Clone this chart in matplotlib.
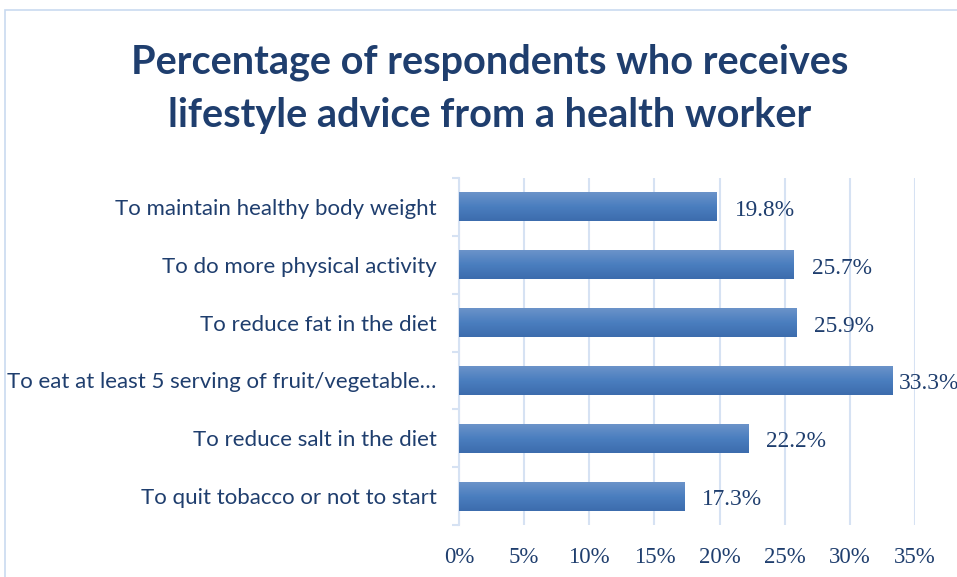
import matplotlib
matplotlib.use("Agg")
import matplotlib.pyplot as plt
import numpy as np
from matplotlib.patches import Rectangle
from matplotlib.colors import LinearSegmentedColormap

categories = [
    "To maintain healthy body weight",
    "To do more physical activity",
    "To reduce fat in the diet",
    "To eat at least 5 serving of fruit/vegetable\u2026",
    "To reduce salt in the diet",
    "To quit tobacco or not to start",
]
values = [19.8, 25.7, 25.9, 33.3, 22.2, 17.3]
value_labels = ["19.8%", "25.7%", "25.9%", "33.3%", "22.2%", "17.3%"]
xticks = [0, 5, 10, 15, 20, 25, 30, 35]
xtick_labels = ["0%", "5%", "10%", "15%", "20%", "25%", "30%", "35%"]
title = "Percentage of respondents who receives\nlifestyle advice from a health worker"

W, H = 957, 577
fig = plt.figure(figsize=(W / 100, H / 100), dpi=100)
fig.patch.set_facecolor("white")

navy = "#1f3e6e"
grid_c = "#d6e2f3"

# chart border
fig.add_artist(Rectangle((5 / W, -0.1), 1.2, 1.1 - 10 / H, transform=fig.transFigure,
                         fill=False, edgecolor="#c9daf0", linewidth=1.2))

left, right = 459 / W, 915 / W
bottom, top = 1 - 525 / H, 1 - 178 / H
ax = fig.add_axes([left, bottom, right - left, top - bottom])
ax.set_facecolor("none")

n = len(categories)
ypos = np.arange(n)

cmap = LinearSegmentedColormap.from_list("g", ["#6b93c9", "#4a7ebf", "#3c6cad"])
grad = np.linspace(0, 1, 64).reshape(-1, 1)
bar_h = 0.5
bars = ax.barh(ypos, values, height=bar_h, color="#4a7ebf", zorder=3)
for b in bars:
    x0, y0 = b.get_x(), b.get_y()
    w, h = b.get_width(), b.get_height()
    im = ax.imshow(grad, cmap=cmap, aspect="auto", extent=(x0, x0 + w, y0 + h, y0),
                   origin="upper", zorder=3.5, interpolation="bilinear")
    im.set_clip_path(b)
ax.set_xlim(0, 35)
ax.set_ylim(n - 0.5, -0.5)

for y, v, lab in zip(ypos, values, value_labels):
    off = 6 if v > 30 else 18
    ax.annotate(lab, xy=(v, y), xytext=(off, -1), textcoords="offset pixels",
                va="center_baseline", ha="left", fontsize=16.8, color=navy,
                family="Liberation Serif", annotation_clip=False, zorder=5)

ax.set_xticks(xticks)
ax.set_xticklabels(xtick_labels, family="Liberation Serif", fontsize=16.5, color=navy)
ax.tick_params(axis="x", length=0, pad=16)
ax.set_yticks(ypos)
ax.set_yticklabels(categories, family="Lato", fontsize=16, color=navy)
ax.tick_params(axis="y", length=0, pad=16)
ax.set_yticks(np.arange(-0.5, n, 1), minor=True)
ax.tick_params(axis="y", which="minor", length=5, color=grid_c, width=1.5)

ax.grid(axis="x", color=grid_c, linewidth=1.5, zorder=0)
for s in ["top", "right", "bottom"]:
    ax.spines[s].set_visible(False)
ax.spines["left"].set_color(grid_c)
ax.spines["left"].set_linewidth(1.5)

fig.text(490 / W, 1 - 89 / H, title, ha="center", va="center", fontsize=28.5,
         family="Lato", fontweight="bold", color=navy, linespacing=1.52)

fig.savefig("out.png", dpi=100)
